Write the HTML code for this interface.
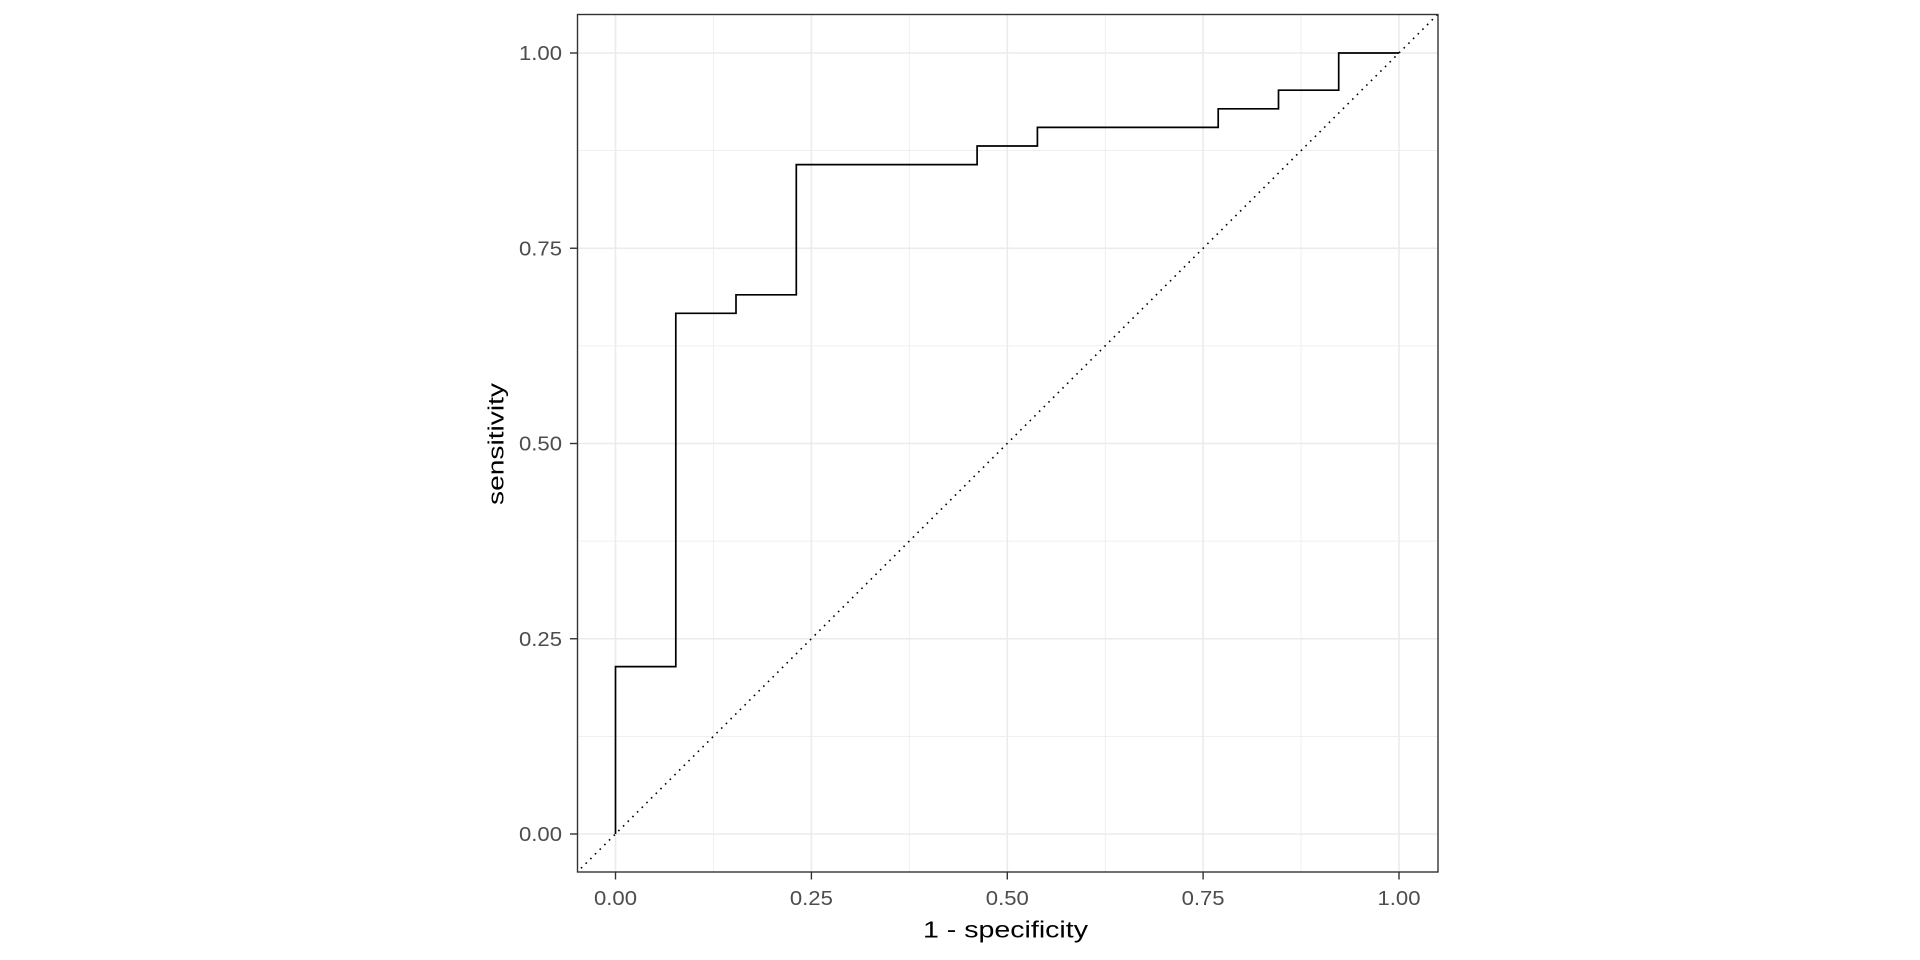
<!DOCTYPE html>
<html><head><style>
html,body{margin:0;padding:0;background:#fff;}
svg{display:block;}
text{font-family:"Liberation Sans",Arial,sans-serif;}
</style></head><body>
<svg width="1920" height="960" viewBox="0 0 1920 960" xmlns="http://www.w3.org/2000/svg">
<rect width="1920" height="960" fill="#fff"/>
<defs><clipPath id="c"><rect x="577.5" y="14.5" width="860.5" height="857.5"/></clipPath></defs>
<g stroke="#ebebeb" stroke-width="0.8" fill="none">
<line x1="577.5" x2="1438" y1="736.4" y2="736.4"/><line x1="577.5" x2="1438" y1="541.1" y2="541.1"/>
<line x1="577.5" x2="1438" y1="345.9" y2="345.9"/><line x1="577.5" x2="1438" y1="150.6" y2="150.6"/>
<line y1="14.5" y2="872" x1="713.4" x2="713.4"/><line y1="14.5" y2="872" x1="909.3" x2="909.3"/>
<line y1="14.5" y2="872" x1="1105.2" x2="1105.2"/><line y1="14.5" y2="872" x1="1301.1" x2="1301.1"/>
</g>
<g stroke="#ebebeb" stroke-width="1.6" fill="none">
<line x1="577.5" x2="1438" y1="834" y2="834"/><line x1="577.5" x2="1438" y1="638.75" y2="638.75"/>
<line x1="577.5" x2="1438" y1="443.5" y2="443.5"/><line x1="577.5" x2="1438" y1="248.25" y2="248.25"/>
<line x1="577.5" x2="1438" y1="53" y2="53"/>
<line y1="14.5" y2="872" x1="615.5" x2="615.5"/><line y1="14.5" y2="872" x1="811.4" x2="811.4"/>
<line y1="14.5" y2="872" x1="1007.3" x2="1007.3"/><line y1="14.5" y2="872" x1="1203.1" x2="1203.1"/>
<line y1="14.5" y2="872" x1="1399" x2="1399"/>
</g>
<g clip-path="url(#c)">
<line x1="576.3" y1="873" x2="1438.2" y2="13.9" stroke="#000" stroke-width="1.6" stroke-dasharray="1.6,5"/>
<polyline fill="none" stroke="#000" stroke-width="1.7" points="615.5,834 615.5,666.6 675.8,666.6 675.8,313.3 736,313.3 736,294.8 796.3,294.8 796.3,164.6 977.1,164.6 977.1,146 1037.4,146 1037.4,127.4 1218.2,127.4 1218.2,108.8 1278.5,108.8 1278.5,90.2 1338.7,90.2 1338.7,53 1399,53"/>
</g>
<rect x="577.5" y="14.5" width="860.5" height="857.5" fill="none" stroke="#333" stroke-width="1.4"/>
<g stroke="#333" stroke-width="1.4">
<line x1="570" x2="577.5" y1="834" y2="834"/><line x1="570" x2="577.5" y1="638.75" y2="638.75"/>
<line x1="570" x2="577.5" y1="443.5" y2="443.5"/><line x1="570" x2="577.5" y1="248.25" y2="248.25"/>
<line x1="570" x2="577.5" y1="53" y2="53"/>
<line y1="872" y2="879.5" x1="615.5" x2="615.5"/><line y1="872" y2="879.5" x1="811.4" x2="811.4"/>
<line y1="872" y2="879.5" x1="1007.3" x2="1007.3"/><line y1="872" y2="879.5" x1="1203.1" x2="1203.1"/>
<line y1="872" y2="879.5" x1="1399" x2="1399"/>
</g>
<g fill="#4d4d4d" font-size="20">
<text x="519" y="841" textLength="43" lengthAdjust="spacingAndGlyphs">0.00</text>
<text x="519" y="645.75" textLength="43" lengthAdjust="spacingAndGlyphs">0.25</text>
<text x="519" y="450.5" textLength="43" lengthAdjust="spacingAndGlyphs">0.50</text>
<text x="519" y="255.25" textLength="43" lengthAdjust="spacingAndGlyphs">0.75</text>
<text x="519" y="60" textLength="43" lengthAdjust="spacingAndGlyphs">1.00</text>
</g>
<g fill="#4d4d4d" font-size="20">
<text x="594" y="905" textLength="43" lengthAdjust="spacingAndGlyphs">0.00</text>
<text x="789.9" y="905" textLength="43" lengthAdjust="spacingAndGlyphs">0.25</text>
<text x="985.8" y="905" textLength="43" lengthAdjust="spacingAndGlyphs">0.50</text>
<text x="1181.6" y="905" textLength="43" lengthAdjust="spacingAndGlyphs">0.75</text>
<text x="1377.5" y="905" textLength="43" lengthAdjust="spacingAndGlyphs">1.00</text>
</g>
<text x="923" y="937.5" font-size="23" textLength="165" lengthAdjust="spacingAndGlyphs" fill="#000">1 - specificity</text>
<text transform="translate(503.5,505) rotate(-90)" x="0" y="0" font-size="22.5" textLength="122" lengthAdjust="spacingAndGlyphs" fill="#000">sensitivity</text>
</svg>
</body></html>
